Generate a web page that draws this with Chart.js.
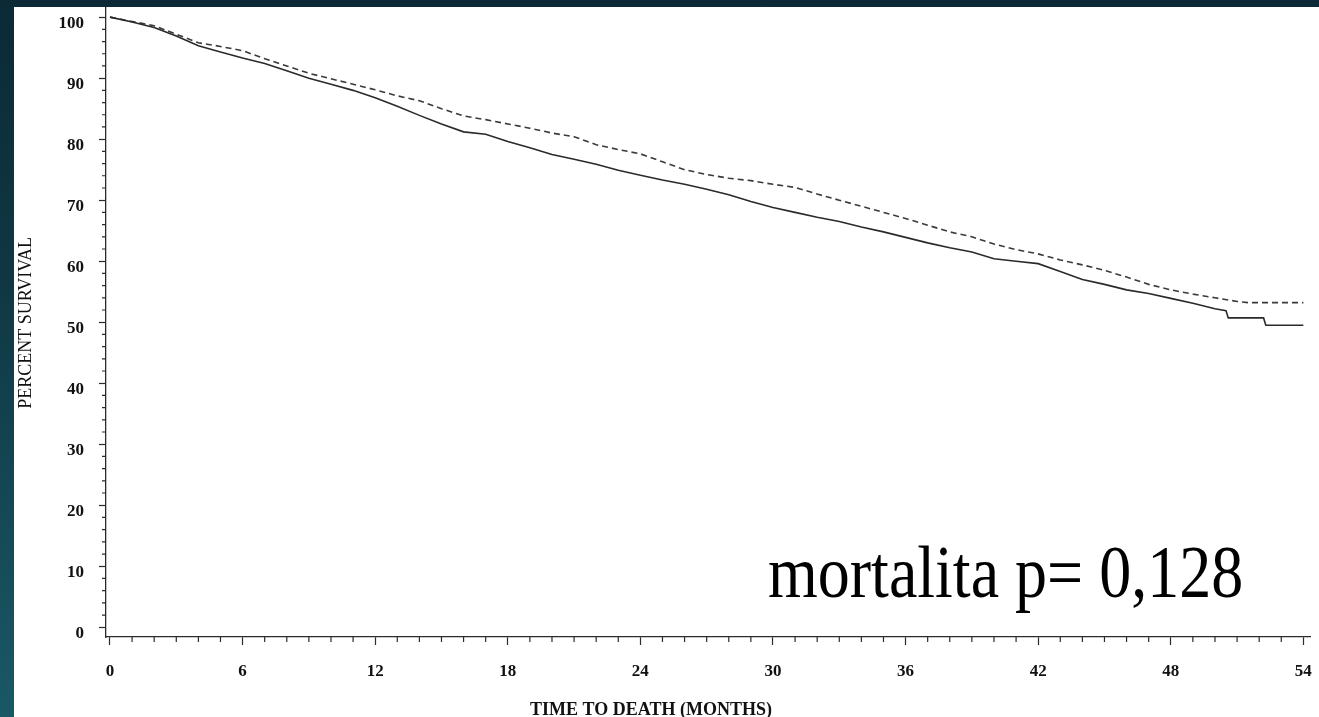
<!DOCTYPE html>
<html>
<head>
<meta charset="utf-8">
<script src="https://cdn.jsdelivr.net/npm/chart.js@4/dist/chart.umd.min.js"></script>
<style>
html, body { margin: 0; padding: 0; width: 1319px; height: 717px; overflow: hidden; }
body { background: linear-gradient(180deg, #0b2a35 0%, #0f3844 40%, #1a5866 100%); position: relative; }
#panel { position: absolute; left: 14px; top: 7px; width: 1305px; height: 710px; background: #fff; }
#chart { display: block; }
#note {
    position: absolute; left: 768px; top: 544px;
    font-family: 'Liberation Serif', 'Times New Roman', serif; font-size: 64px; line-height: 1;
    color: #000; white-space: nowrap;
    transform: scaleY(1.15); transform-origin: 0 54px;
}
</style>
</head>
<body>
<div id="panel"><canvas id="chart" width="1305" height="710"></canvas></div>
<div id="note">mortalita p= 0,128</div>
<script>
// dati (mesi, % sopravvivenza)
const monthsSolid = [0,1,2,3,4,5,6,7,8,9,10,11,12,13,14,15,16,17,18,19,20,21,22,23,24,25,26,27,28,29,30,
    31,32,33,34,35,36,37,38,39,40,41,42,43,44,45,46,47,48,49,50,50.5,50.6,52.2,52.3,54];
const survivalSolid = [100,99.2,98.3,96.9,95.3,94.3,93.3,92.4,91.2,90.0,89.0,88.0,86.8,85.4,83.9,82.5,81.2,80.8,79.6,78.6,77.5,
    76.7,75.9,74.9,74.1,73.3,72.6,71.8,70.9,69.8,68.8,68.0,67.2,66.5,65.6,64.8,63.9,63.0,62.2,61.5,60.4,
    60.0,59.6,58.3,57.0,56.2,55.3,54.7,53.9,53.1,52.2,51.9,50.7,50.7,49.5,49.5];

const monthsDashed = [0,1,2,3,4,5,6,7,8,9,10,11,12,13,14,15,16,17,18,19,20,21,22,23,24,25,26,27,28,29,30,
    31,32,33,34,35,36,37,38,39,40,41,42,43,44,45,46,47,48,49,50,51,51.5,54];
const survivalDashed = [100,99.3,98.6,97.2,95.8,95.2,94.5,93.2,92.0,90.8,89.9,89.0,88.1,87.1,86.3,85.0,83.8,83.2,82.5,81.8,81.0,
    80.4,79.1,78.3,77.6,76.3,75.0,74.2,73.6,73.2,72.6,72.1,71.0,70.0,69.0,68.0,67.0,65.9,64.8,64.0,62.8,
    61.9,61.2,60.2,59.4,58.5,57.4,56.2,55.3,54.6,54.0,53.4,53.2,53.2];

const xTickLabels = [0, 6, 12, 18, 24, 30, 36, 42, 48, 54];
const yTickLabels = [0, 10, 20, 30, 40, 50, 60, 70, 80, 90, 100];

const serif = "'Liberation Serif', 'Times New Roman', serif";
const axisColor = '#2b2b2b';

// tacche minori (mesi / 2 punti percentuali) piu' corte, e titoli degli assi
const extras = {
    id: 'extras',
    afterDraw(chart) {
        const ctx = chart.ctx;
        const xs = chart.scales.x, ys = chart.scales.y;
        const area = chart.chartArea;
        ctx.save();
        ctx.strokeStyle = axisColor;
        ctx.lineWidth = 1.2;
        ctx.beginPath();
        for (let m = 0; m <= 54; m++) {
            if (xTickLabels.includes(m)) continue;
            const px = xs.getPixelForValue(m);
            ctx.moveTo(px, area.bottom);
            ctx.lineTo(px, area.bottom + 5);
        }
        for (let v = 0; v <= 100; v += 2) {
            if (yTickLabels.includes(v)) continue;
            const py = ys.getPixelForValue(v);
            ctx.moveTo(area.left - 4, py);
            ctx.lineTo(area.left, py);
        }
        ctx.stroke();

        ctx.fillStyle = '#111';
        ctx.font = 'bold 18px ' + serif;
        ctx.textAlign = 'center';
        ctx.textBaseline = 'alphabetic';
        ctx.fillText('TIME TO DEATH (MONTHS)', 637, 708);

        ctx.translate(17, 316);
        ctx.rotate(-Math.PI / 2);
        ctx.font = '18px ' + serif;
        ctx.fillText('PERCENT SURVIVAL', 0, 0);
        ctx.restore();
    }
};

new Chart(document.getElementById('chart'), {
    type: 'line',
    data: {
        datasets: [{
            label: 'A',
            data: monthsSolid.map((m, i) => ({ x: m, y: survivalSolid[i] })),
            borderColor: '#2a2a2a',
            borderWidth: 1.6,
            pointRadius: 0,
            tension: 0,
            fill: false
        }, {
            label: 'B',
            data: monthsDashed.map((m, i) => ({ x: m, y: survivalDashed[i] })),
            borderColor: '#3a3a3a',
            borderWidth: 1.6,
            borderDash: [6, 4],
            pointRadius: 0,
            tension: 0,
            fill: false
        }]
    },
    options: {
        responsive: false,
        animation: false,
        layout: { padding: { top: 1, right: 9, left: 0, bottom: 0 } },
        plugins: {
            legend: { display: false },
            tooltip: { enabled: false }
        },
        scales: {
            x: {
                type: 'linear',
                min: -0.18,
                max: 54.3,
                afterBuildTicks: scale => {
                    scale.ticks = xTickLabels.map(v => ({ value: v }));
                },
                afterFit: scale => {
                    scale.height = 80;
                    scale.paddingLeft = 0;
                    scale.paddingRight = 0;
                },
                border: { display: true, color: axisColor, width: 1.3 },
                grid: { drawOnChartArea: false, tickLength: 8, tickColor: axisColor, tickWidth: 1.2 },
                ticks: {
                    autoSkip: false,
                    maxRotation: 0,
                    padding: 16,
                    color: '#111',
                    font: { family: serif, size: 17, weight: 'bold' },
                    callback: v => v
                }
            },
            y: {
                type: 'linear',
                min: -1.6,
                max: 101.5,
                afterBuildTicks: scale => {
                    scale.ticks = yTickLabels.map(v => ({ value: v }));
                },
                afterFit: scale => {
                    scale.width = 92;
                    scale.paddingTop = 0;
                    scale.paddingBottom = 0;
                },
                border: { display: true, color: axisColor, width: 1.3 },
                grid: { drawOnChartArea: false, tickLength: 7, tickColor: axisColor, tickWidth: 1.2 },
                ticks: {
                    autoSkip: false,
                    padding: 15,
                    labelOffset: 6,
                    color: '#111',
                    font: { family: serif, size: 17, weight: 'bold' },
                    callback: v => v
                }
            }
        }
    },
    plugins: [extras]
});
</script>
</body>
</html>
